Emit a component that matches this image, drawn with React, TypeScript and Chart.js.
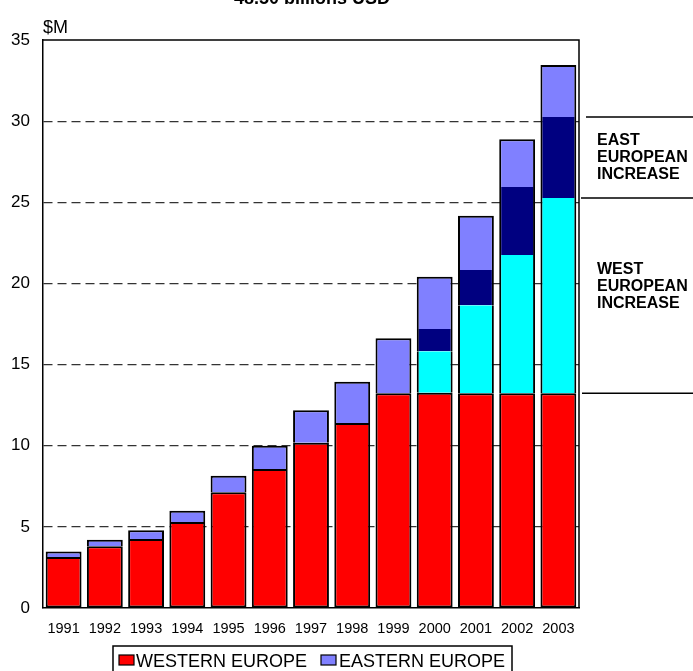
import React, { useEffect, useRef } from "react";
import { Chart, registerables } from "chart.js";

Chart.register(...registerables);

const years = ["1991", "1992", "1993", "1994", "1995", "1996", "1997", "1998", "1999", "2000", "2001", "2002", "2003"];
const westernBase = [3.15, 3.8, 4.25, 5.3, 7.13, 8.56, 10.19, 11.4, 13.23, 13.27, 13.23, 13.23, 13.23];
const westIncrease = [0, 0, 0, 0, 0, 0, 0, 0, 0, 2.55, 5.42, 8.52, 12.03];
const eastIncrease = [0, 0, 0, 0, 0, 0, 0, 0, 0, 1.37, 2.18, 4.19, 4.99];
const easternBase = [0.33, 0.4, 0.54, 0.7, 1.02, 1.44, 1.99, 2.54, 3.39, 3.22, 3.34, 2.94, 3.21];
const yMax = 35;
const yStep = 5;
const legendLabels = ["WESTERN EUROPE", "EASTERN EUROPE"];
const eastNote = ["EAST", "EUROPEAN", "INCREASE"];
const westNote = ["WEST", "EUROPEAN", "INCREASE"];
const titleText = "48.50 billions USD";
const yUnit = "$M";

const RED = "#FF0000";
const CYAN = "#00FFFF";
const NAVY = "#000080";
const LIGHT = "#8080FF";
const BW = 2;

const overlay = {
  id: "overlay",
  afterDraw(chart: any) {
    const { ctx, chartArea, scales } = chart;
    const y = scales.y;
    ctx.save();
    ctx.strokeStyle = "#000";
    ctx.lineWidth = 1.5;
    ctx.beginPath();
    ctx.moveTo(chartArea.left, chartArea.top);
    ctx.lineTo(chartArea.right, chartArea.top);
    ctx.lineTo(chartArea.right, chartArea.bottom);
    ctx.stroke();

    ctx.fillStyle = "#000";
    ctx.font = "bold 18px Arial, 'Liberation Sans', sans-serif";
    ctx.textAlign = "center";
    ctx.textBaseline = "alphabetic";
    ctx.fillText(titleText, 312, 4);

    ctx.textAlign = "left";
    ctx.font = "18px Arial, 'Liberation Sans', sans-serif";
    ctx.fillText(yUnit, 43, 33);

    const last = years.length - 1;
    const redTop = westernBase[last];
    const cyanTop = redTop + westIncrease[last];
    const navyTop = cyanTop + eastIncrease[last];
    const yNavy = y.getPixelForValue(navyTop);
    const yCyan = y.getPixelForValue(cyanTop);
    const yRed = y.getPixelForValue(redTop);
    ctx.lineWidth = 1.5;
    ctx.beginPath();
    ctx.moveTo(586, yNavy);
    ctx.lineTo(693, yNavy);
    ctx.moveTo(581, yCyan);
    ctx.lineTo(693, yCyan);
    ctx.moveTo(582, yRed);
    ctx.lineTo(693, yRed);
    ctx.stroke();

    ctx.font = "bold 16px Arial, 'Liberation Sans', sans-serif";
    ctx.textAlign = "left";
    eastNote.forEach((t, i) => ctx.fillText(t, 597, yNavy + 28 + i * 17));
    westNote.forEach((t, i) => ctx.fillText(t, 597, yCyan + 75.5 + i * 17));

    ctx.lineWidth = 1.5;
    ctx.strokeRect(113, 646, 399, 40);
    const items = [
      { label: legendLabels[0], color: RED, bx: 119, tx: 136 },
      { label: legendLabels[1], color: LIGHT, bx: 321, tx: 339 },
    ];
    ctx.font = "18px Arial, 'Liberation Sans', sans-serif";
    items.forEach((it) => {
      ctx.fillStyle = it.color;
      ctx.fillRect(it.bx, 655, 15, 10);
      ctx.lineWidth = 1.2;
      ctx.strokeRect(it.bx, 655, 15, 10);
      ctx.fillStyle = "#000";
      ctx.fillText(it.label, it.tx, 667);
    });
    ctx.restore();
  },
};

export default function App() {
  const ref = useRef<HTMLCanvasElement>(null);
  useEffect(() => {
    if (!ref.current) return;
    const incBorder = { top: 0, bottom: 0, left: BW, right: BW };
    const chart = new Chart(ref.current, {
      type: "bar",
      data: {
        labels: years,
        datasets: [
          {
            label: "WESTERN EUROPE",
            data: westernBase,
            backgroundColor: RED,
            borderColor: "#000",
            borderWidth: BW,
            borderSkipped: false,
          },
          {
            label: "WEST INCREASE",
            data: westIncrease.map((v) => (v > 0 ? v : null)),
            backgroundColor: CYAN,
            borderColor: "#000",
            borderWidth: incBorder,
            borderSkipped: false,
          },
          {
            label: "EAST INCREASE",
            data: eastIncrease.map((v) => (v > 0 ? v : null)),
            backgroundColor: NAVY,
            borderColor: "#000",
            borderWidth: incBorder,
            borderSkipped: false,
          },
          {
            label: "EASTERN EUROPE",
            data: easternBase,
            backgroundColor: LIGHT,
            borderColor: "#000",
            borderWidth: { top: BW, left: BW, right: BW, bottom: 0 },
            borderSkipped: false,
          },
        ] as any,
      },
      options: {
        responsive: false,
        animation: false,
        layout: { padding: { top: 40, right: 114, bottom: 0, left: 0 } },
        plugins: { legend: { display: false }, tooltip: { enabled: false }, title: { display: false } },
        datasets: { bar: { barPercentage: 0.87, categoryPercentage: 1 } },
        scales: {
          x: {
            stacked: true,
            grid: { display: false, drawTicks: false },
            border: { display: true, color: "#000", width: 1.5 },
            ticks: {
              color: "#000",
              font: { family: "Arial, 'Liberation Sans', sans-serif", size: 14.5 },
              padding: 12,
              maxRotation: 0,
              autoSkip: false,
            },
            afterFit: (s: any) => {
              s.height = 63;
            },
          },
          y: {
            stacked: true,
            min: 0,
            max: yMax,
            grid: {
              color: (c: any) => (c.tick && (c.tick.value === 0 || c.tick.value === yMax) ? "rgba(0,0,0,0)" : "#333"),
              lineWidth: 1.2,
              drawTicks: false,
            },
            border: { display: true, color: "#000", width: 1.5, dash: [9, 5] } as any,
            ticks: {
              stepSize: yStep,
              color: "#000",
              font: { family: "Arial, 'Liberation Sans', sans-serif", size: 17 },
              padding: 13,
            },
            afterFit: (s: any) => {
              s.width = 43;
            },
          },
        },
      } as any,
      plugins: [overlay],
    });
    return () => chart.destroy();
  }, []);
  return (
    <div style={{ position: "fixed", left: 0, top: 0, width: 693, height: 671, background: "#fff" }}>
      <canvas ref={ref} width={693} height={671} />
    </div>
  );
}
